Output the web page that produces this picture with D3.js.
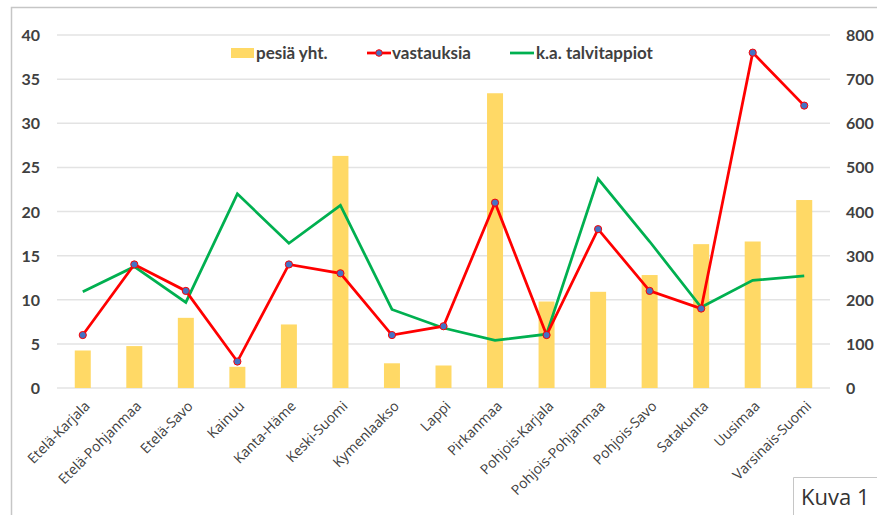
<!DOCTYPE html>
<html><head><meta charset="utf-8">
<script src="https://cdn.jsdelivr.net/npm/d3@7"></script>
<style>
body{margin:0;background:#fff;}
svg{display:block;}
</style></head>
<body>
<svg id="chart" width="877" height="515"></svg>
<script>
const categories = ["Etelä-Karjala","Etelä-Pohjanmaa","Etelä-Savo","Kainuu","Kanta-Häme","Keski-Suomi","Kymenlaakso","Lappi","Pirkanmaa","Pohjois-Karjala","Pohjois-Pohjanmaa","Pohjois-Savo","Satakunta","Uusimaa","Varsinais-Suomi"];
const pesiaYht = [85, 95, 159, 48, 144, 526, 56, 51, 668, 196, 218, 256, 326, 332, 426];
const vastauksia = [6, 14, 11, 3, 14, 13, 6, 7, 21, 6, 18, 11, 9, 38, 32];
const talvitappiot = [10.9, 13.75, 9.7, 22, 16.4, 20.7, 8.9, 6.8, 5.4, 6.1, 23.7, 16.6, 9.15, 12.2, 12.7];
const leftTicks = [0,5,10,15,20,25,30,35,40];
const rightTicks = [0,100,200,300,400,500,600,700,800];
const seriesNames = ["pesiä yht.","vastauksia","k.a. talvitappiot"];

const svg = d3.select("#chart");
const pLeft = 57, pRight = 830, pTop = 35, pBottom = 388;
const txt = "#404040";

// frame
svg.append("path").attr("d","M11.5,515 V7.5 H877").attr("fill","none").attr("stroke","#c6c6c6").attr("stroke-width",1.5);

const x = d3.scaleBand().domain(categories).range([pLeft,pRight]);
const yL = d3.scaleLinear().domain([0,40]).range([pBottom,pTop]);
const yR = d3.scaleLinear().domain([0,800]).range([pBottom,pTop]);

// gridlines
svg.append("g").selectAll("line").data(leftTicks).join("line")
  .attr("x1",pLeft).attr("x2",pRight)
  .attr("y1",d=>yL(d)).attr("y2",d=>yL(d))
  .attr("stroke","#e3e3e3").attr("stroke-width",1.5);

// bars
const bw = 16;
svg.append("g").selectAll("rect").data(pesiaYht).join("rect")
  .attr("x",(d,i)=>x(categories[i])+x.bandwidth()/2-bw/2)
  .attr("width",bw)
  .attr("y",d=>yR(d))
  .attr("height",d=>pBottom-yR(d))
  .attr("fill","#FFD966");

// green line
const line = d3.line().x((d,i)=>x(categories[i])+x.bandwidth()/2).y(d=>yL(d));
svg.append("path").datum(talvitappiot).attr("d",line)
  .attr("fill","none").attr("stroke","#00B050").attr("stroke-width",2.75).attr("stroke-linejoin","miter");
// red line
svg.append("path").datum(vastauksia).attr("d",line)
  .attr("fill","none").attr("stroke","#FF0000").attr("stroke-width",2.75);
svg.append("g").selectAll("circle").data(vastauksia).join("circle")
  .attr("cx",(d,i)=>x(categories[i])+x.bandwidth()/2)
  .attr("cy",d=>yL(d)).attr("r",3.6)
  .attr("fill","#4472C4").attr("stroke","#FF0000").attr("stroke-width",1);

// left axis
const axL = svg.append("g").attr("transform",`translate(40,0)`)
  .call(d3.axisLeft(yL).tickValues(leftTicks).tickSize(0).tickPadding(0));
axL.select(".domain").remove();
axL.selectAll("text").attr("font-family","Lato, 'Open Sans', sans-serif").attr("font-weight","bold").attr("font-size",16).attr("fill",txt).attr("dy","0.35em");

// right axis
const axR = svg.append("g").attr("transform",`translate(846,0)`)
  .call(d3.axisRight(yR).tickValues(rightTicks).tickSize(0).tickPadding(0));
axR.select(".domain").remove();
axR.selectAll("text").attr("font-family","Lato, 'Open Sans', sans-serif").attr("font-weight","bold").attr("font-size",16).attr("fill",txt).attr("dy","0.35em");

// x axis labels
const axX = svg.append("g").attr("transform",`translate(0,${pBottom})`)
  .call(d3.axisBottom(x).tickSize(0).tickPadding(0));
axX.select(".domain").remove();
axX.selectAll("text")
  .attr("font-family","'Open Sans', sans-serif").attr("font-size",14).attr("fill",txt)
  .attr("text-anchor","end").attr("dy",0).attr("y",0)
  .attr("transform","translate(8,19) rotate(-45)");

// legend
const lg = svg.append("g").attr("font-family","Lato, 'Open Sans', sans-serif").attr("font-weight","bold").attr("font-size",17).attr("fill",txt);
lg.append("rect").attr("x",231).attr("y",48).attr("width",23).attr("height",10).attr("fill","#FFD966");
lg.append("text").attr("x",256).attr("y",59).text(seriesNames[0]);
lg.append("line").attr("x1",367).attr("x2",391).attr("y1",53).attr("y2",53).attr("stroke","#FF0000").attr("stroke-width",2.75);
lg.append("circle").attr("cx",379).attr("cy",53).attr("r",3.3).attr("fill","#4472C4").attr("stroke","#FF0000");
lg.append("text").attr("x",392).attr("y",59).text(seriesNames[1]);
lg.append("line").attr("x1",510).attr("x2",534).attr("y1",53).attr("y2",53).attr("stroke","#00B050").attr("stroke-width",2.75);
lg.append("text").attr("x",536).attr("y",59).text(seriesNames[2]);

// Kuva 1 box
svg.append("path").attr("d","M793.5,515 V477.5 H877").attr("fill","none").attr("stroke","#c6c6c6").attr("stroke-width",1);
svg.append("text").attr("x",801).attr("y",505).attr("font-family","'Open Sans', sans-serif").attr("font-size",22).attr("fill","#333").text("Kuva 1");
</script>
</body></html>
